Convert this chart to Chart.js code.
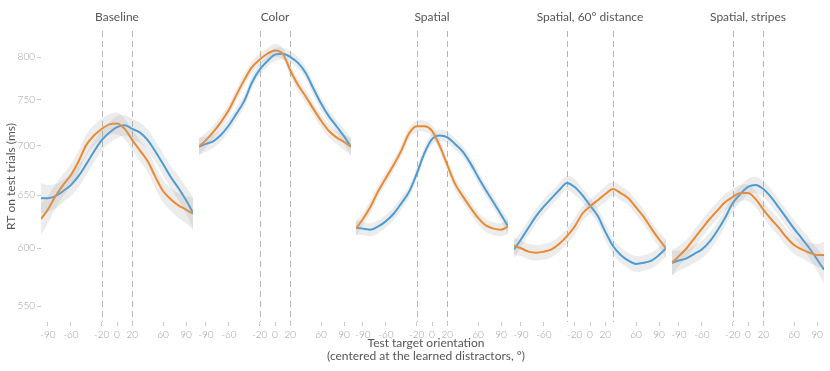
<!DOCTYPE html>
<html>
<head>
<meta charset="utf-8">
<script src="https://cdn.jsdelivr.net/npm/chart.js@4"></script>
<style>
  body { margin: 0; background: #fff; font-family: Lato, "Open Sans", sans-serif; }
  #wrap { position: relative; width: 830px; height: 371px; }
  .panel { position: absolute; top: 0; height: 345px; }
  #xtitle { position: absolute; left: 296px; width: 260px; top: 336px; text-align: center;
            font-size: 12px; line-height: 13px; color: #555; }
</style>
</head>
<body>
<div id="wrap">
  <div class="panel" id="p0" style="left:0;width:193px"><canvas id="c0"></canvas></div>
  <div class="panel" id="p1" style="left:199px;width:152px"><canvas id="c1"></canvas></div>
  <div class="panel" id="p2" style="left:356px;width:152px"><canvas id="c2"></canvas></div>
  <div class="panel" id="p3" style="left:514px;width:152px"><canvas id="c3"></canvas></div>
  <div class="panel" id="p4" style="left:672px;width:152px"><canvas id="c4"></canvas></div>
  <div id="xtitle">Test target orientation<br>(centered at the learned distractors, °)</div>
</div>
<script>
// orientation grid (deg) shared by every panel
const angles = [-99, -90, -80, -70, -60, -50, -40, -30, -20, -10, 0, 10, 20, 30, 40, 50, 60, 70, 80, 90, 99];
const xTicks = [-90, -60, -20, 0, 20, 60, 90];
const yTicks = [550, 600, 650, 700, 750, 800];

const panelTitles = ['Baseline', 'Color', 'Spatial', 'Spatial, 60° distance', 'Spatial, stripes'];
const distractorOffsets = [20, 20, 20, 30, 20];

// RT (ms), orange series
const orangeBaseline = [627, 636, 649, 660, 670, 684, 701, 711, 718, 723, 724, 718, 706, 695, 684, 668, 654, 646, 640, 636, 632];
const orangeColor    = [699, 706, 715, 726, 739, 756, 773, 788, 797, 804, 808, 804, 784, 767, 754, 740, 727, 716, 709, 704, 699];
const orangeSpatial  = [618, 627, 639, 654, 667, 680, 695, 713, 721, 721, 716, 700, 680, 661, 649, 638, 628, 621, 618, 617, 620];
const orangeSpat60   = [602, 600, 597, 596, 597, 599, 604, 611, 620, 632, 639, 645, 651, 656, 652, 647, 638, 629, 618, 608, 600];
const orangeStripes  = [587, 593, 600, 609, 618, 627, 635, 643, 648, 652, 652, 646, 636, 627, 619, 610, 603, 599, 596, 594, 594];

// RT (ms), blue series
const blueBaseline = [647, 647, 649, 654, 660, 669, 681, 694, 706, 714, 720, 722, 718, 714, 706, 694, 681, 668, 657, 645, 633];
const blueColor    = [699, 702, 705, 712, 722, 735, 749, 770, 785, 795, 803, 804, 800, 793, 781, 763, 746, 732, 721, 710, 699];
const blueSpatial  = [619, 618, 617, 620, 625, 632, 642, 653, 671, 692, 707, 711, 709, 702, 694, 682, 668, 655, 643, 631, 620];
const blueSpat60   = [599, 608, 619, 630, 639, 647, 655, 662, 658, 650, 640, 630, 615, 602, 594, 589, 586, 587, 589, 594, 600];
const blueStripes  = [587, 589, 591, 595, 599, 606, 616, 628, 642, 651, 658, 660, 656, 648, 638, 628, 618, 609, 600, 590, 581];

// half-width of the grey confidence band (ms)
const ciBaseline = [15, 13, 12, 11, 11, 11, 11, 11, 11, 11, 12, 11, 11, 11, 11, 11, 11, 11, 12, 13, 15];
const ciColor    = [9, 8, 7, 7, 7, 7, 7, 7, 7, 7, 8, 7, 7, 7, 7, 7, 7, 7, 7, 8, 9];
const ciSpatial  = [7, 6, 6, 6, 6, 6, 6, 6, 6, 6, 6, 6, 6, 6, 6, 6, 6, 6, 6, 6, 7];
const ciSpat60   = [8, 7, 7, 7, 7, 7, 7, 7, 8, 7, 7, 7, 8, 7, 7, 7, 7, 7, 7, 7, 8];
const ciStripes  = [11, 9, 8, 8, 8, 8, 8, 8, 8, 8, 8, 8, 8, 8, 8, 8, 8, 8, 9, 10, 12];

const orangeAll = [orangeBaseline, orangeColor, orangeSpatial, orangeSpat60, orangeStripes];
const blueAll = [blueBaseline, blueColor, blueSpatial, blueSpat60, blueStripes];
const ciAll = [ciBaseline, ciColor, ciSpatial, ciSpat60, ciStripes];

const ORANGE = '#ff800e';
const BLUE = '#3199e0';
const BAND = 'rgba(170,170,170,0.22)';
const FONT = 'Lato, "Open Sans", sans-serif';

function pts(vals, ci, sign) {
    return angles.map((a, i) => ({ x: a, y: vals[i] + sign * ci[i] }));
}

// dashed lines at the learned distractors
const dashPlugin = {
    id: 'dashLines',
    beforeDatasetsDraw(chart, args, opts) {
        const { ctx, chartArea, scales } = chart;
        ctx.save();
        ctx.strokeStyle = '#b5b5b5';
        ctx.lineWidth = 1;
        ctx.setLineDash([6, 4]);
        [-opts.offset, opts.offset].forEach(v => {
            const x = Math.round(scales.x.getPixelForValue(v)) + 0.5;
            ctx.beginPath();
            ctx.moveTo(x, chartArea.top);
            ctx.lineTo(x, chartArea.bottom);
            ctx.stroke();
        });
        ctx.restore();
    }
};

function makePanel(k) {
    const first = k === 0;
    const ci = ciAll[k];
    const bandDs = (vals) => [
        { data: pts(vals, ci, 1), borderWidth: 0, pointRadius: 0, fill: false, tension: 0.4 },
        { data: pts(vals, ci, -1), borderWidth: 0, pointRadius: 0, fill: '-1', backgroundColor: BAND, tension: 0.4 }
    ];
    const lineDs = (vals, color) => ({
        data: pts(vals, ci, 0), borderColor: color, borderWidth: 2, pointRadius: 0,
        fill: false, cubicInterpolationMode: 'monotone'
    });

    new Chart(document.getElementById('c' + k), {
        type: 'line',
        data: {
            datasets: [
                ...bandDs(orangeAll[k]),
                ...bandDs(blueAll[k]),
                lineDs(orangeAll[k], ORANGE),
                lineDs(blueAll[k], BLUE)
            ]
        },
        options: {
            responsive: true,
            maintainAspectRatio: false,
            animation: false,
            layout: { padding: 0 },
            plugins: {
                legend: { display: false },
                tooltip: { enabled: false },
                title: {
                    display: true,
                    text: panelTitles[k],
                    color: '#555',
                    font: { family: FONT, size: 12, weight: 'normal' },
                    padding: { top: 10, bottom: 6.6 },
                    fullSize: false
                },
                dashLines: { offset: distractorOffsets[k] }
            },
            scales: {
                x: {
                    type: 'linear',
                    min: -99,
                    max: 99,
                    afterBuildTicks: s => { s.ticks = xTicks.map(v => ({ value: v })); },
                    afterFit: s => { s.height = 23; s.paddingLeft = 0; s.paddingRight = 0; },
                    grid: { drawOnChartArea: false, drawTicks: true, tickLength: 4, color: '#c8c8c8' },
                    border: { display: false },
                    ticks: {
                        color: '#9a9a9a', padding: 3, maxRotation: 0, autoSkip: false,
                        font: { family: FONT, size: 10, weight: 300 },
                        callback: v => v
                    }
                },
                y: {
                    type: 'logarithmic',
                    display: first,
                    min: 537,
                    max: 832,
                    afterBuildTicks: s => { s.ticks = yTicks.map(v => ({ value: v })); },
                    afterFit: s => { s.width = first ? 41 : 0; s.paddingTop = 0; s.paddingBottom = 0; },
                    grid: { drawOnChartArea: false, drawTicks: true, tickLength: 4, color: '#c8c8c8' },
                    border: { display: false },
                    ticks: {
                        color: '#9a9a9a', padding: 2,
                        font: { family: FONT, size: 10, weight: 300 },
                        callback: v => v
                    },
                    title: {
                        display: true,
                        text: 'RT on test trials (ms)',
                        color: '#555',
                        font: { family: FONT, size: 12 },
                        padding: { top: 4, bottom: 0 }
                    }
                }
            }
        },
        plugins: [dashPlugin]
    });
}

for (let k = 0; k < 5; k++) makePanel(k);
</script>
</body>
</html>
